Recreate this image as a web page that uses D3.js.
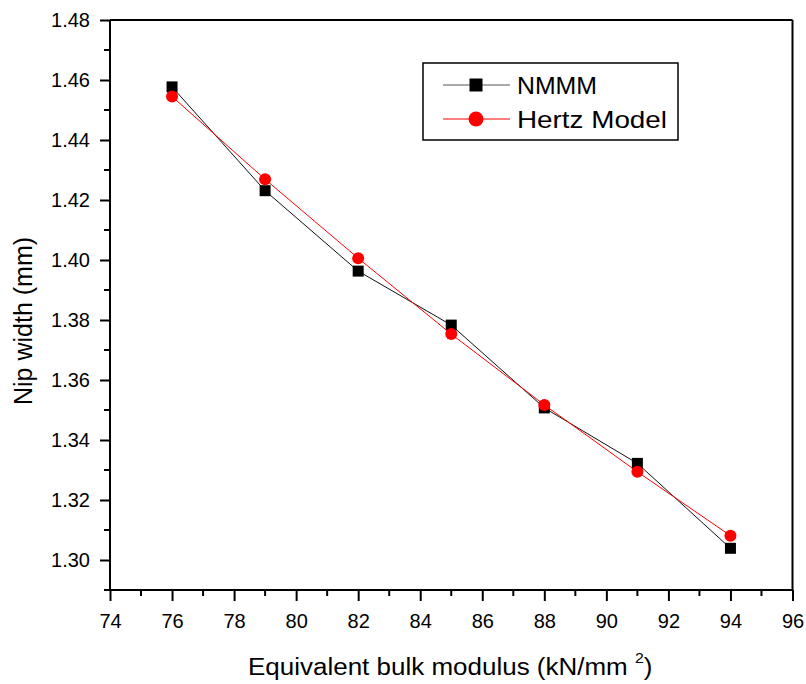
<!DOCTYPE html>
<html><head><meta charset="utf-8">
<script src="https://cdn.jsdelivr.net/npm/d3@7"></script>
<style>
body{margin:0;background:#fff;}
text{font-family:Arial,"Liberation Sans",sans-serif;fill:#000;}
</style></head>
<body><svg id="c" width="806" height="684"></svg>
<script>
const xValues = [76, 79, 82, 85, 88, 91, 94];
const nmmm = [1.4577, 1.4231, 1.3963, 1.3783, 1.3507, 1.3322, 1.3039];
const hertz = [1.4545, 1.4269, 1.4006, 1.3753, 1.3517, 1.3294, 1.3081];
const xTicks = [74, 76, 78, 80, 82, 84, 86, 88, 90, 92, 94, 96];
const yTicks = [1.30, 1.32, 1.34, 1.36, 1.38, 1.40, 1.42, 1.44, 1.46, 1.48];
const seriesNames = ["NMMM", "Hertz Model"];

const svg = d3.select("#c");
const L = 110, R = 792.5, T = 20, B = 590;
const x = d3.scaleLinear().domain([74, 96]).range([L, R]);
const y = d3.scaleLinear().domain([1.29, 1.48]).range([B, T]);

// frame top/right
svg.append("line").attr("x1", L).attr("x2", R).attr("y1", T).attr("y2", T).attr("stroke", "#000").attr("stroke-width", 2);
svg.append("line").attr("x1", R).attr("x2", R).attr("y1", T).attr("y2", B).attr("stroke", "#000").attr("stroke-width", 2);

// x axis
const xMinor = d3.range(75, 96, 2);
const gx = svg.append("g").attr("transform", `translate(0,${B})`);
gx.call(d3.axisBottom(x).tickValues(xTicks).tickSize(11).tickPadding(13).tickFormat(d3.format("d")));
gx.selectAll(".minor").data(xMinor).enter().append("line").attr("class","minor")
  .attr("x1", d => x(d)).attr("x2", d => x(d)).attr("y1", 0).attr("y2", 6).attr("stroke", "#000").attr("stroke-width", 2);
gx.select(".domain").attr("stroke", "#000").attr("stroke-width", 2).attr("d", `M${L},0H${R}`);
gx.selectAll(".tick line").attr("stroke", "#000").attr("stroke-width", 2);
gx.selectAll(".tick text").attr("font-size", 20).attr("fill", "#000").style("font-family", "Arial, 'Liberation Sans', sans-serif");

// y axis
const yMinor = d3.range(1.29, 1.48, 0.02).map(v => +v.toFixed(2));
const gy = svg.append("g").attr("transform", `translate(${L},0)`);
gy.call(d3.axisLeft(y).tickValues(yTicks).tickSize(10).tickPadding(10).tickFormat(d3.format(".2f")));
gy.selectAll(".minor").data(yMinor).enter().append("line").attr("class","minor")
  .attr("y1", d => y(d)).attr("y2", d => y(d)).attr("x1", 0).attr("x2", -6).attr("stroke", "#000").attr("stroke-width", 2);
gy.select(".domain").attr("stroke", "#000").attr("stroke-width", 2).attr("d", `M0,${B}V${T}`);
gy.selectAll(".tick line").attr("stroke", "#000").attr("stroke-width", 2);
gy.selectAll(".tick text").attr("font-size", 20).attr("fill", "#000").style("font-family", "Arial, 'Liberation Sans', sans-serif");

// lines
const line = d3.line().x(d => x(d[0])).y(d => y(d[1]));
const nData = xValues.map((v, i) => [v, nmmm[i]]);
const hData = xValues.map((v, i) => [v, hertz[i]]);
svg.append("path").datum(nData).attr("d", line).attr("fill", "none").attr("stroke", "#111").attr("stroke-width", 1);
svg.selectAll(".sq").data(nData).enter().append("rect").attr("class","sq")
  .attr("x", d => x(d[0]) - 5.5).attr("y", d => y(d[1]) - 5.5).attr("width", 11).attr("height", 11).attr("fill", "#000");
svg.append("path").datum(hData).attr("d", line).attr("fill", "none").attr("stroke", "#ff0000").attr("stroke-width", 1);
svg.selectAll(".ci").data(hData).enter().append("circle").attr("class","ci")
  .attr("cx", d => x(d[0])).attr("cy", d => y(d[1])).attr("r", 6).attr("fill", "#ff0000");

// legend
const lg = svg.append("g");
lg.append("rect").attr("x", 423).attr("y", 63).attr("width", 255).attr("height", 77).attr("fill", "#fff").attr("stroke", "#000").attr("stroke-width", 1.5);
const rows = [85, 119];
lg.append("line").attr("x1", 443).attr("x2", 510).attr("y1", rows[0]).attr("y2", rows[0]).attr("stroke", "#555").attr("stroke-width", 1);
lg.append("rect").attr("x", 476 - 6.5).attr("y", rows[0] - 6.5).attr("width", 13).attr("height", 13).attr("fill", "#000");
lg.append("line").attr("x1", 443).attr("x2", 510).attr("y1", rows[1]).attr("y2", rows[1]).attr("stroke", "#ff0000").attr("stroke-width", 1);
lg.append("circle").attr("cx", 476).attr("cy", rows[1]).attr("r", 7.5).attr("fill", "#ff0000");
lg.append("text").attr("x", 517).attr("y", rows[0] + 8.5).attr("font-size", 24).attr("textLength", 80).attr("lengthAdjust", "spacingAndGlyphs").text(seriesNames[0]);
lg.append("text").attr("x", 517).attr("y", rows[1] + 8.5).attr("font-size", 24).attr("textLength", 150).attr("lengthAdjust", "spacingAndGlyphs").text(seriesNames[1]);

// axis titles
const xt = svg.append("text").attr("transform", "translate(248,675) scale(1.13,1)").attr("font-size", 23);
xt.append("tspan").text("Equivalent bulk modulus (kN/mm ");
xt.append("tspan").attr("font-size", 14).attr("dy", -12).text("2");
xt.append("tspan").attr("dy", 12).text(")");

svg.append("text").attr("transform", "translate(32,321) rotate(-90)").attr("text-anchor", "middle")
  .attr("font-size", 25).text("Nip width (mm)");
</script>
</body></html>
